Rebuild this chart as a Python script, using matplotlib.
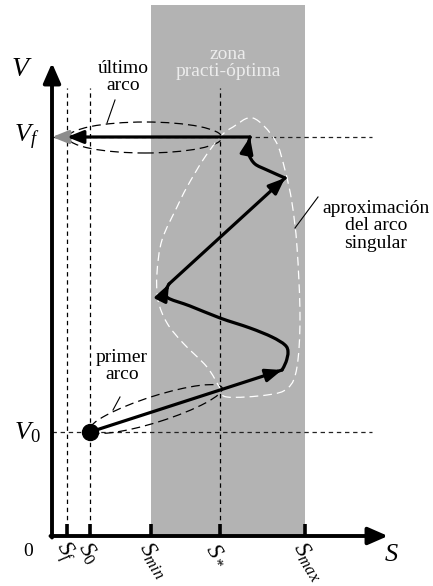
import numpy as np
import matplotlib
matplotlib.use("Agg")
import matplotlib.pyplot as plt
from matplotlib.path import Path
from matplotlib.patches import PathPatch, FancyArrowPatch, Ellipse

plt.rcParams['font.family'] = 'serif'
plt.rcParams['font.serif'] = ['Liberation Serif', 'DejaVu Serif']
plt.rcParams['mathtext.fontset'] = 'custom'
plt.rcParams['mathtext.rm'] = 'Liberation Serif'
plt.rcParams['mathtext.it'] = 'Liberation Serif:italic'

# --- values (schematic units) ---
s_ticks = [15, 38, 99, 168, 253]
s_tick_labels = [r'$S_f$', r'$S_0$', r'$S_{min}$', r'$S_*$', r'$S_{max}$']
S_F, S_0, S_MIN, S_STAR, S_MAX = s_ticks
V_0, V_F = 104, 399
zone_top = 531
guide_top = 448
s_axis_end, v_axis_end = 336, 473

# trajectory pieces
arc1_s, arc1_v = [38, 230], [104, 166]
arc2_s = [230, 234, 236, 233, 220, 198, 168, 138, 118, 114, 114, 117]
arc2_v = [166, 174, 184, 191, 199, 208, 218, 230, 237, 241, 246, 252]
arc3_s, arc3_v = [117, 233], [252, 358]
arc4_s = [233, 215, 203, 197, 196, 198]
arc4_v = [358, 366, 372, 381, 389, 399]
last_s, last_v = [198, 15], [399, 399]
exit_s = [15, 0]

# outline of the singular-arc approximation
singular_s = [201, 223, 233, 240, 245, 248, 245, 236, 215, 175, 168, 155,
              131, 115, 106, 105, 110, 125, 135, 151, 168, 181]
singular_v = [418, 396, 366, 333, 289, 219, 169, 148, 141, 139, 148, 169,
              193, 213, 236, 263, 296, 329, 349, 376, 399, 409]


def smooth_path(xs, ys, closed=False):
    # catmull-rom through the points, as cubic bezier segments
    p = np.column_stack([xs, ys]).astype(float)
    n = len(p)
    if closed:
        ext = np.vstack([p[-1], p, p[0], p[1]])
        segs = n
    else:
        ext = np.vstack([p[0], p, p[-1]])
        segs = n - 1
    verts = [ext[1]]
    codes = [Path.MOVETO]
    for i in range(segs):
        p0, p1, p2, p3 = ext[i], ext[i + 1], ext[i + 2], ext[i + 3]
        verts += [p1 + (p2 - p0) / 6, p2 - (p3 - p1) / 6, p2]
        codes += [Path.CURVE4] * 3
    return Path(verts, codes)


fig = plt.figure(figsize=(4.33, 5.86), dpi=100)
ax = fig.add_axes([0, 0, 1, 1])
ax.set_xlim(-52, 381)
ax.set_ylim(-50, 536)
ax.axis('off')

# practically-optimal zone
ax.fill_between([S_MIN, S_MAX], 0, zone_top, color='#b3b3b3', lw=0, zorder=0)

# guide lines
dash = (0, (3.5, 3))
for s in [S_F, S_0, S_STAR]:
    ax.plot([s, s], [0, guide_top], color='k', lw=0.9, ls=dash, zorder=1)
for v in [V_0, V_F]:
    ax.plot([0, 320], [v, v], color='#222222', lw=0.9, ls=dash, zorder=1)

# ellipses around first / last arc
ax.add_patch(Ellipse((93, 398.5), 154, 31, fill=False, ec='k', lw=0.9,
                     ls=(0, (7, 4)), zorder=2))
ax.add_patch(Ellipse((104, 127), 139, 26, angle=17.6, fill=False, ec='k',
                     lw=0.9, ls=(0, (7, 4)), zorder=2))

# singular arc approximation outline
ax.add_patch(PathPatch(smooth_path(singular_s, singular_v, closed=True),
                       fill=False, ec='white', lw=0.9, ls=(0, (7, 4)), zorder=2))

# trajectory: lines, then arrowheads at each piece's end
head = '-|>,head_length=0.75,head_width=0.3'
for xs, ys in [(arc1_s, arc1_v), (arc2_s, arc2_v), (arc3_s, arc3_v),
               (arc4_s, arc4_v), (last_s, last_v)]:
    ax.add_patch(PathPatch(smooth_path(xs, ys), fill=False, ec='k', lw=2.3,
                           capstyle='round', joinstyle='round', zorder=4))
    tip = np.array([xs[-1], ys[-1]], float)
    d = tip - np.array([xs[-2], ys[-2]], float)
    d /= np.hypot(*d)
    ax.add_patch(FancyArrowPatch(tip - 14 * d, tip, arrowstyle=head,
                                 mutation_scale=13, color='k', lw=2.3,
                                 shrinkA=0, shrinkB=0, zorder=5))
ax.add_patch(FancyArrowPatch((exit_s[0], V_F), (exit_s[1], V_F), arrowstyle=head,
                             mutation_scale=13, color='#8c8c8c', lw=2.3,
                             shrinkA=0, shrinkB=0, zorder=4))
ax.plot([S_0], [V_0], 'o', color='k', ms=11.5, zorder=5)

# axes
axis_kw = dict(arrowstyle='-|>,head_length=0.8,head_width=0.35',
               mutation_scale=15, color='k', lw=2.8, shrinkA=0, shrinkB=0,
               zorder=6)
ax.add_patch(FancyArrowPatch((0, -1.5), (0, v_axis_end), **axis_kw))
ax.add_patch(FancyArrowPatch((-1.5, 0), (s_axis_end, 0), **axis_kw))
for s in s_ticks:
    ax.plot([s, s], [0, 12], color='k', lw=2.6, solid_capstyle='butt', zorder=6)

# tick labels
for s, lab in zip(s_ticks, s_tick_labels):
    ax.text(s - 8, -8, lab, fontsize=17, rotation=-58, rotation_mode='anchor',
            ha='left', va='center')
ax.text(-24, -15, '0', fontsize=14, ha='center', va='center')
ax.text(339, -19, r'$S$', fontsize=19, ha='center', va='center')
ax.text(-30, 466, r'$V$', fontsize=20, ha='center', va='center')
ax.text(-25, 399, r'$V_f$', fontsize=19, ha='center', va='center')
ax.text(-25, 103, r'$V_0$', fontsize=19, ha='center', va='center')

# annotations
ax.text(176, 473, 'zona\npracti-óptima', fontsize=14, color='#ececec',
        ha='center', va='center', linespacing=1.05)
ax.text(71, 459, 'último\narco', fontsize=14, ha='center', va='center',
        linespacing=1.05)
ax.text(70, 170, 'primer\narco', fontsize=14, ha='center', va='center',
        linespacing=1.05)
ax.text(324, 310, 'aproximación\ndel arco\nsingular', fontsize=14,
        ha='center', va='center', linespacing=1.05)
ax.plot([63, 55], [436, 413], color='k', lw=0.8)
ax.plot([68, 61], [139, 126], color='k', lw=0.8)
ax.plot([266, 243], [339, 308], color='k', lw=0.8)

fig.savefig('out.png', dpi=100)
